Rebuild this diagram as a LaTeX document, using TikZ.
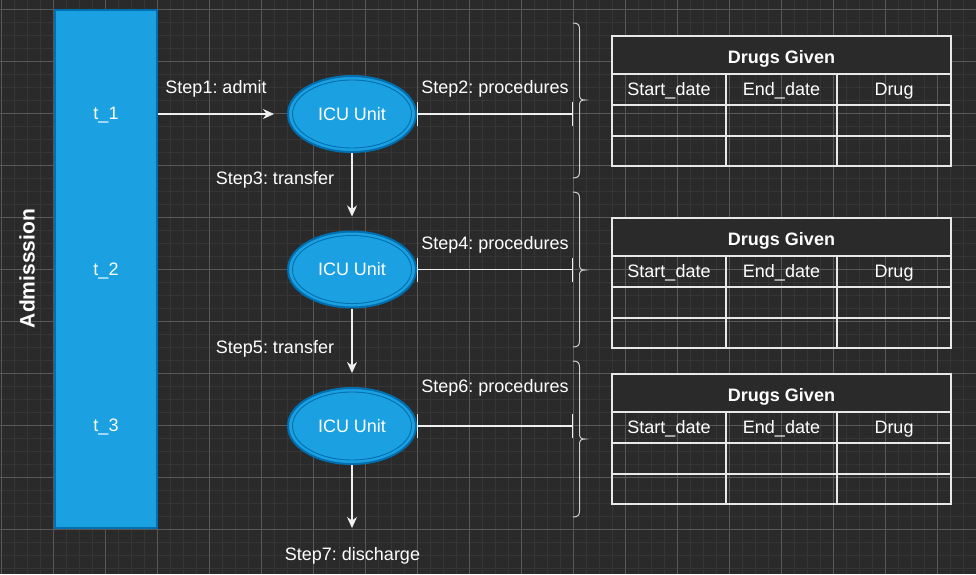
\documentclass[tikz,border=0pt]{standalone}
\usepackage{fontspec}
\setmainfont{Liberation Sans}
\frenchspacing
\usetikzlibrary{shapes.geometric,arrows.meta}
\definecolor{bg}{HTML}{2A2A2A}
\definecolor{gminor}{HTML}{353535}
\definecolor{gmajor}{HTML}{585858}
\definecolor{blfill}{HTML}{1BA1E2}
\definecolor{bledge}{HTML}{006EAF}
\definecolor{ln}{HTML}{F0F0F0}
\definecolor{tbl}{HTML}{E8E8E8}
\definecolor{brc}{HTML}{D0D0D0}
\tikzset{
  lbl/.style={text=white,font=\fontsize{18}{21}\selectfont,inner sep=0pt,text height=12.9pt,text depth=0pt},
  boldlbl/.style={lbl,font=\fontsize{18}{21}\selectfont\bfseries},
  lane/.style={draw=bledge,fill=blfill,line width=1.5pt,inner sep=0pt,minimum width=102pt,minimum height=518pt},
  icu/.style={ellipse,draw=bledge,fill=blfill,line width=2pt,inner sep=0pt,minimum width=128pt,minimum height=76pt},
  icuin/.style={ellipse,draw=bledge,line width=0.9pt,inner sep=0pt,minimum width=119pt,minimum height=68pt},
  conn/.style={draw=ln,line width=1.3pt},
  arr/.style={conn,-{Stealth[length=11pt,width=10pt,inset=3.5pt]}},
  barline/.style={conn,{Bar[width=24pt,line width=1.3pt]}-{Bar[width=24pt,line width=1.3pt]}},
  tline/.style={draw=tbl,line width=1.3pt},
  brc/.style={draw=brc,line width=1pt},
  gmin/.style={draw=gminor,line width=1.4pt},
  gmaj/.style={draw=gmajor,line width=1pt}
}
\newcommand\drugtable[2]{%
  \path[fill=bg,tline] (612,#2) rectangle (951,#2+38);
  \draw[tline] (612,#2+38) rectangle (951,#2+130);
  \draw[tline] (612,#2+69) -- (951,#2+69);
  \draw[tline] (612,#2+100) -- (951,#2+100);
  \draw[tline] (726,#2+38) -- (726,#2+130);
  \draw[tline] (837,#2+38) -- (837,#2+130);
  \node[boldlbl] (#1t) at (781.5,#2+21) {Drugs Given};
  \node[lbl] (#1a) at (669,#2+53.5) {Start\_date};
  \node[lbl] (#1b) at (781.5,#2+53.5) {End\_date};
  \node[lbl] (#1c) at (894,#2+53.5) {Drug};
}
\newcommand\curly[3]{%
  \draw[brc] (573,#1) .. controls (578,#1) and (579.5,#1+2) .. (579.5,#1+6)
    -- (579.5,#2-5) .. controls (579.5,#2-1.5) and (581,#2) .. (585,#2)
    .. controls (581,#2) and (579.5,#2+1.5) .. (579.5,#2+5)
    -- (579.5,#3-6) .. controls (579.5,#3-2) and (578,#3) .. (573,#3);
}
\begin{document}
\begin{tikzpicture}[x=1pt,y=-1pt]
\fill[bg] (0,0) rectangle (976,574);
\useasboundingbox (0,0) rectangle (976,574);
% grid
\foreach \i in {0,...,75} \draw[gmin] ({1.3+13*\i},0) -- ({1.3+13*\i},574);
\foreach \i in {0,...,44} \draw[gmin] (0,{9.3+13*\i}) -- (976,{9.3+13*\i});
\foreach \i in {0,...,18} \draw[gmaj] ({1.3+52*\i},0) -- ({1.3+52*\i},574);
\foreach \i in {0,...,11} \draw[gmaj] (0,{9.3+52*\i}) -- (976,{9.3+52*\i});

% admission lane
\node[lane] (adm) at (106,269) {};
\node[lbl] (t1) at (106,113) {t\_1};
\node[lbl] (t2) at (106,269) {t\_2};
\node[lbl] (t3) at (106,425) {t\_3};
\node[lbl,font=\fontsize{21}{24}\selectfont\bfseries,text height=15pt,rotate=90] (admlbl) at (27,268.5) {Admisssion};

% ICU units
\node[icu] (e1) at (352,114) {};
\node[icuin] (e1i) at (e1.center) {};
\node[lbl] (e1t) at (e1.center) {ICU Unit};
\node[icu] (e2) at (352,269.5) {};
\node[icuin] (e2i) at (e2.center) {};
\node[lbl] (e2t) at (e2.center) {ICU Unit};
\node[icu] (e3) at (352,426) {};
\node[icuin] (e3i) at (e3.center) {};
\node[lbl] (e3t) at (e3.center) {ICU Unit};

% braces
\curly{23}{100}{178}
\curly{192}{270}{347}
\curly{361}{439}{517}
\coordinate (br1) at (573,100);
\coordinate (br2) at (573,270);
\coordinate (br3) at (573,439);
\coordinate (dis) at (352,528);

% connectors
\draw[arr] (adm.east |- e1.center) -- ([xshift=-13pt]e1.west);
\draw[barline] (e1.east) -- (e1.east -| br1);
\draw[barline] (e2.east) -- (e2.east -| br2);
\draw[barline] (e3.east) -- (e3.east -| br3);
\draw[arr] (e1.south) -- ([yshift=14pt]e2.north);
\draw[arr] (e2.south) -- ([yshift=14pt]e3.north);
\draw[arr] (e3.south) -- (dis);

% labels
\node[lbl] (s1) at (216,87) {Step1: admit};
\node[lbl] (s2) at (495,87) {Step2: procedures};
\node[lbl] (s3) at (275,178) {Step3: transfer};
\node[lbl] (s4) at (495,243) {Step4: procedures};
\node[lbl] (s5) at (275,347) {Step5: transfer};
\node[lbl] (s6) at (495,386) {Step6: procedures};
\node[lbl] (s7) at (352.5,554.5) {Step7: discharge};

% tables
\drugtable{ta}{36}
\drugtable{tb}{218}
\drugtable{tc}{374}
\end{tikzpicture}
\end{document}
